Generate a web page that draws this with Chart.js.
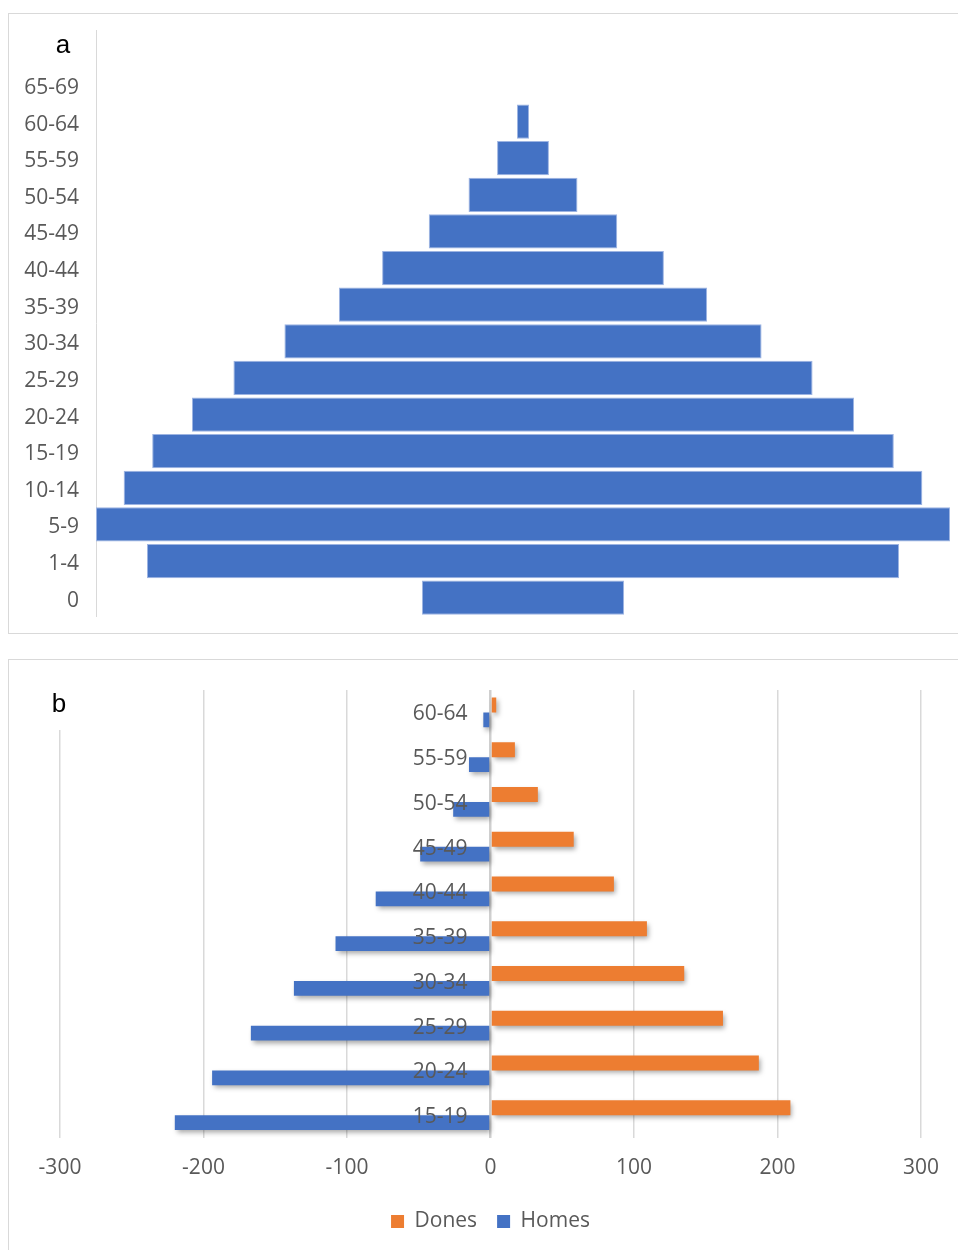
<!DOCTYPE html>
<html>
<head>
<meta charset="utf-8">
<script src="https://cdn.jsdelivr.net/npm/chart.js@4.4.1/dist/chart.umd.min.js"></script>
<style>
  html, body { margin: 0; padding: 0; background: #fff; overflow: hidden; }
  body { width: 958px; height: 1250px; position: relative; }
  .box { position: absolute; border: 1px solid #d9d9d9; background: #fff; }
  #boxA { left: 8px; top: 13px; width: 960px; height: 619px; }
  #boxB { left: 8px; top: 659px; width: 960px; height: 600px; }
  canvas { position: absolute; left: 0; top: 0; }
</style>
</head>
<body>
<div id="boxA" class="box"><canvas id="chartA" width="949" height="619" style="width:949px;height:619px"></canvas></div>
<div id="boxB" class="box"><canvas id="chartB" width="949" height="590" style="width:949px;height:590px"></canvas></div>
<script>
// ---------- Data: chart a (population pyramid, totals per age group) ----------
const ageGroupsA = ['', '65-69', '60-64', '55-59', '50-54', '45-49', '40-44', '35-39', '30-34', '25-29', '20-24', '15-19', '10-14', '5-9', '1-4', '0'];
const totalsA = [null, 0, 7, 30, 63, 109, 163, 213, 276, 335, 383, 429, 462, 494, 435, 117];

// ---------- Data: chart b (by sex) ----------
const ageGroupsB = ['60-64', '55-59', '50-54', '45-49', '40-44', '35-39', '30-34', '25-29', '20-24', '15-19'];
const dones = [4, 17, 33, 58, 86, 109, 135, 162, 187, 209];
const homes = [-5, -15, -26, -49, -80, -108, -137, -167, -194, -220];
const xTicksB = [-300, -200, -100, 0, 100, 200, 300];

const BLUE = '#4472C4';
const ORANGE = '#ED7D31';
const TICK_COLOR = '#595959';
const FONT = "'Open Sans', 'DejaVu Sans', sans-serif";

// ---------- Chart a ----------
const halfA = Math.max(...totalsA.filter(v => v != null)) / 2;
const floatA = totalsA.map(t => (t ? [-t / 2, t / 2] : null));

const panelLabel = (text, x, y, cover) => ({
  id: 'panelLabel' + text,
  afterDraw(chart) {
    const ctx = chart.ctx;
    ctx.save();
    if (cover) {
      ctx.fillStyle = '#fff';
      ctx.fillRect(cover[0], cover[1], cover[2], cover[3]);
    }
    ctx.fillStyle = '#000';
    ctx.font = "26px 'Liberation Sans', Arial, sans-serif";
    ctx.textAlign = 'center';
    ctx.textBaseline = 'alphabetic';
    ctx.fillText(text, x, y);
    ctx.restore();
  }
});

new Chart(document.getElementById('chartA'), {
  type: 'bar',
  data: {
    labels: ageGroupsA,
    datasets: [{
      label: 'Total',
      data: floatA,
      backgroundColor: BLUE,
      borderColor: '#9DB4E2',
      borderWidth: 1,
      borderSkipped: false,
      categoryPercentage: 1,
      barPercentage: 0.935
    }]
  },
  options: {
    indexAxis: 'y',
    responsive: false,
    animation: false,
    layout: { padding: { left: 0, right: 8, top: 16, bottom: 17 } },
    plugins: { legend: { display: false }, tooltip: { enabled: false } },
    scales: {
      x: { display: false, min: -halfA, max: halfA },
      y: {
        position: 'left',
        grid: { display: false, drawTicks: false },
        border: { display: true, color: '#d9d9d9', width: 1 },
        ticks: { color: TICK_COLOR, font: { family: FONT, size: 21 }, padding: 17, labelOffset: 3, autoSkip: false },
        afterFit(scale) { scale.width = 87; scale.paddingTop = 0; scale.paddingBottom = 0; }
      }
    }
  },
  plugins: [panelLabel('a', 54, 39, null)]
});

// ---------- Chart b ----------
const shadowPlugin = {
  id: 'barShadow',
  beforeDatasetsDraw(chart) {
    const ctx = chart.ctx;
    ctx.save();
    ctx.shadowColor = 'rgba(0,0,0,0.35)';
    ctx.shadowBlur = 5;
    ctx.shadowOffsetX = 2;
    ctx.shadowOffsetY = 3;
  },
  afterDatasetsDraw(chart) {
    chart.ctx.restore();
  }
};

new Chart(document.getElementById('chartB'), {
  type: 'bar',
  data: {
    labels: ageGroupsB,
    datasets: [
      { label: 'Dones', data: dones, backgroundColor: ORANGE, categoryPercentage: 0.67, barPercentage: 1 },
      { label: 'Homes', data: homes, backgroundColor: BLUE, categoryPercentage: 0.67, barPercentage: 1 }
    ]
  },
  options: {
    indexAxis: 'y',
    responsive: false,
    animation: false,
    layout: { padding: { left: 51, right: 37, top: 30, bottom: 8 } },
    plugins: {
      tooltip: { enabled: false },
      legend: {
        position: 'bottom',
        labels: {
          color: TICK_COLOR,
          font: { family: FONT, size: 21 },
          boxWidth: 13,
          boxHeight: 13,
          padding: 20
        }
      }
    },
    scales: {
      x: {
        min: xTicksB[0],
        max: xTicksB[xTicksB.length - 1],
        afterBuildTicks(scale) { scale.ticks = xTicksB.map(v => ({ value: v })); },
        grid: {
          color: c => (c.tick && c.tick.value === 0 ? '#cfcfcf' : '#d9d9d9'),
          lineWidth: c => (c.tick && c.tick.value === 0 ? 2.5 : 1.5),
          drawTicks: false
        },
        border: { display: false },
        ticks: { color: TICK_COLOR, font: { family: FONT, size: 21 }, padding: 18 },
        afterFit(scale) { scale.height = 53.5; }
      },
      y: {
        position: { x: -16 },
        grid: { display: false, drawTicks: false },
        border: { display: false },
        ticks: { z: 1, color: TICK_COLOR, font: { family: FONT, size: 21 }, padding: 0, labelOffset: 2, autoSkip: false }
      }
    }
  },
  plugins: [shadowPlugin, panelLabel('b', 50, 52, [30, 28, 42, 42])]
});
</script>
</body>
</html>
